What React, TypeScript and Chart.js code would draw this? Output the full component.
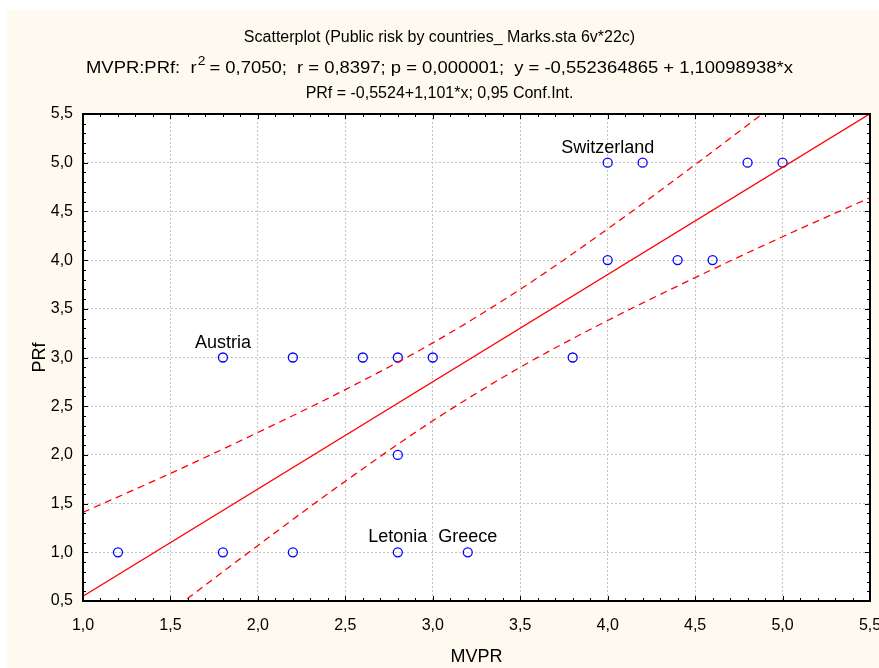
import React, { useEffect, useRef } from "react";
import { Chart, registerables } from "chart.js";
Chart.register(...registerables);

const FONT = "'Liberation Sans', Arial, sans-serif";

// observed cases (MVPR, PRf)
const pointsX = [1.2, 1.8, 2.2, 2.8, 3.2, 2.8, 1.8, 2.2, 2.6, 2.8, 3.0, 3.8, 4.0, 4.4, 4.6, 4.0, 4.2, 4.8, 5.0];
const pointsY = [1, 1, 1, 1, 1, 2, 3, 3, 3, 3, 3, 3, 4, 4, 4, 5, 5, 5, 5];
const pointNames = ["", "", "", "Letonia", "Greece", "", "Austria", "", "", "", "", "", "", "", "", "Switzerland", "", "", ""];

// fitted line end points
const fitX = [1.0, 5.5];
const fitY = [0.549, 5.503];

// 0.95 confidence band
const bandX = [1.0, 1.5, 2.0, 2.5, 3.0, 3.5, 4.0, 4.5, 5.0, 5.5];
const upperY = [1.41, 1.81, 2.23, 2.67, 3.15, 3.7, 4.32, 4.98, 5.66, 6.36];
const lowerY = [-0.31, 0.39, 1.07, 1.73, 2.35, 2.9, 3.38, 3.82, 4.24, 4.64];

const xMin = 1.0, xMax = 5.5, yMin = 0.5, yMax = 5.5, tickStep = 0.5, minorStep = 0.1;

const title1 = "Scatterplot (Public risk by countries_ Marks.sta 6v*22c)";
const title2a = "MVPR:PRf:  r";
const title2sup = "2";
const title2b = " = 0,7050;  r = 0,8397; p = 0,000001;  y = -0,552364865 + 1,10098938*x";
const title3 = "PRf = -0,5524+1,101*x; 0,95 Conf.Int.";
const xTitle = "MVPR";
const yTitle = "PRf";

const fmt = (v: number) => v.toFixed(1).replace(".", ",");

const decorPlugin = {
  id: "decor",
  beforeDraw(chart: any) {
    const { ctx, width, height, chartArea: ca } = chart;
    ctx.save();
    ctx.fillStyle = "#ffffff";
    ctx.fillRect(0, 0, width, height);
    ctx.fillStyle = "#fffaf0";
    ctx.fillRect(7, 10, width - 7, height - 10);
    ctx.fillStyle = "#ffffff";
    ctx.fillRect(ca.left, ca.top, ca.right - ca.left, ca.bottom - ca.top);
    ctx.restore();
  },
  afterDraw(chart: any) {
    const { ctx, chartArea: ca, width } = chart;
    const xs = chart.scales.x, ys = chart.scales.y;
    ctx.save();
    // frame
    ctx.strokeStyle = "#000";
    ctx.lineWidth = 2;
    ctx.strokeRect(ca.left, ca.top, ca.right - ca.left, ca.bottom - ca.top);
    // inner ticks
    ctx.lineWidth = 1;
    const nX = Math.round((xMax - xMin) / minorStep);
    for (let i = 0; i <= nX; i++) {
      const v = xMin + i * minorStep;
      const major = i % Math.round(tickStep / minorStep) === 0;
      const len = major ? 5 : 3;
      const px = Math.round(xs.getPixelForValue(v)) + 0.5;
      ctx.beginPath();
      ctx.moveTo(px, ca.bottom);
      ctx.lineTo(px, ca.bottom - len);
      ctx.moveTo(px, ca.top);
      ctx.lineTo(px, ca.top + len);
      ctx.stroke();
    }
    const nY = Math.round((yMax - yMin) / minorStep);
    for (let i = 0; i <= nY; i++) {
      const v = yMin + i * minorStep;
      const major = i % Math.round(tickStep / minorStep) === 0;
      const len = major ? 5 : 3;
      const py = Math.round(ys.getPixelForValue(v)) + 0.5;
      ctx.beginPath();
      ctx.moveTo(ca.left, py);
      ctx.lineTo(ca.left + len, py);
      ctx.moveTo(ca.right, py);
      ctx.lineTo(ca.right - len, py);
      ctx.stroke();
    }
    // titles
    ctx.fillStyle = "#000";
    ctx.textBaseline = "alphabetic";
    ctx.textAlign = "center";
    ctx.font = `16px ${FONT}`;
    const cx = width / 2;
    ctx.fillText(title1, cx, 42);
    ctx.fillText(title3, cx, 98);
    // line 2 with superscript, stretched to the reference width
    ctx.font = `16px ${FONT}`;
    const wa = ctx.measureText(title2a).width;
    const wb = ctx.measureText(title2b).width;
    ctx.font = `12px ${FONT}`;
    const ws = ctx.measureText(title2sup).width;
    const total = wa + ws + wb;
    const targetW = 707;
    const sx = targetW / total;
    ctx.save();
    ctx.translate(cx - targetW / 2, 0);
    ctx.scale(sx, 1);
    ctx.textAlign = "left";
    ctx.font = `16px ${FONT}`;
    ctx.fillText(title2a, 0, 73);
    ctx.font = `12px ${FONT}`;
    ctx.fillText(title2sup, wa + 1, 65);
    ctx.font = `16px ${FONT}`;
    ctx.fillText(title2b, wa + ws, 73);
    ctx.restore();
    // axis titles
    ctx.textAlign = "center";
    ctx.textBaseline = "middle";
    ctx.font = `18px ${FONT}`;
    ctx.fillText(xTitle, (ca.left + ca.right) / 2, 657);
    ctx.save();
    ctx.translate(40, (ca.top + ca.bottom) / 2);
    ctx.rotate(-Math.PI / 2);
    ctx.fillText(yTitle, 0, 0);
    ctx.restore();
    // point labels
    ctx.textBaseline = "alphabetic";
    ctx.font = `18px ${FONT}`;
    const meta = chart.getDatasetMeta(3);
    meta.data.forEach((el: any, i: number) => {
      const name = pointNames[i];
      if (name) ctx.fillText(name, el.x, el.y - 10);
    });
    ctx.restore();
  },
};

export default function App() {
  const ref = useRef<HTMLCanvasElement>(null);
  useEffect(() => {
    if (!ref.current) return;
    const chart = new Chart(ref.current, {
      type: "scatter",
      data: {
        datasets: [
          {
            data: fitX.map((x, i) => ({ x, y: fitY[i] })),
            showLine: true,
            borderColor: "#ff0000",
            borderWidth: 1.3,
            pointRadius: 0,
            fill: false,
          },
          {
            data: bandX.map((x, i) => ({ x, y: upperY[i] })),
            showLine: true,
            borderColor: "#ff0000",
            borderWidth: 1.3,
            borderDash: [7, 5],
            pointRadius: 0,
            cubicInterpolationMode: "monotone",
            fill: false,
          },
          {
            data: bandX.map((x, i) => ({ x, y: lowerY[i] })),
            showLine: true,
            borderColor: "#ff0000",
            borderWidth: 1.3,
            borderDash: [7, 5],
            pointRadius: 0,
            cubicInterpolationMode: "monotone",
            fill: false,
          },
          {
            data: pointsX.map((x, i) => ({ x, y: pointsY[i] })),
            showLine: false,
            pointRadius: 4.5,
            pointBorderWidth: 1.3,
            pointBorderColor: "#0000ff",
            pointBackgroundColor: "rgba(0,0,0,0)",
          },
        ],
      },
      options: {
        responsive: false,
        animation: false,
        devicePixelRatio: 1,
        layout: { padding: { left: 8, top: 114, right: 9, bottom: 0 } },
        plugins: { legend: { display: false }, tooltip: { enabled: false }, title: { display: false } },
        scales: {
          x: {
            type: "linear",
            min: xMin,
            max: xMax,
            ticks: {
              stepSize: tickStep,
              callback: (v: any) => fmt(Number(v)),
              font: { family: FONT, size: 16 },
              color: "#000",
              padding: 15,
              maxRotation: 0,
              autoSkip: false,
            },
            grid: { color: "#c4c4c4", lineWidth: 1, drawTicks: false },
            border: { display: false, dash: [2, 2] },
            afterFit: (s: any) => {
              s.height = 67;
              s.paddingLeft = 0;
              s.paddingRight = 0;
            },
          },
          y: {
            type: "linear",
            min: yMin,
            max: yMax,
            ticks: {
              stepSize: tickStep,
              callback: (v: any) => fmt(Number(v)),
              font: { family: FONT, size: 16 },
              color: "#000",
              padding: 10,
              autoSkip: false,
            },
            grid: { color: "#c4c4c4", lineWidth: 1, drawTicks: false },
            border: { display: false, dash: [2, 2] },
            afterFit: (s: any) => {
              s.width = 75;
              s.paddingTop = 0;
              s.paddingBottom = 0;
            },
          },
        },
      },
      plugins: [decorPlugin],
    } as any);
    return () => chart.destroy();
  }, []);
  return (
    <div style={{ position: "fixed", left: 0, top: 0, width: 879, height: 668 }}>
      <canvas ref={ref} width={879} height={668} style={{ display: "block", width: 879, height: 668 }} />
    </div>
  );
}
